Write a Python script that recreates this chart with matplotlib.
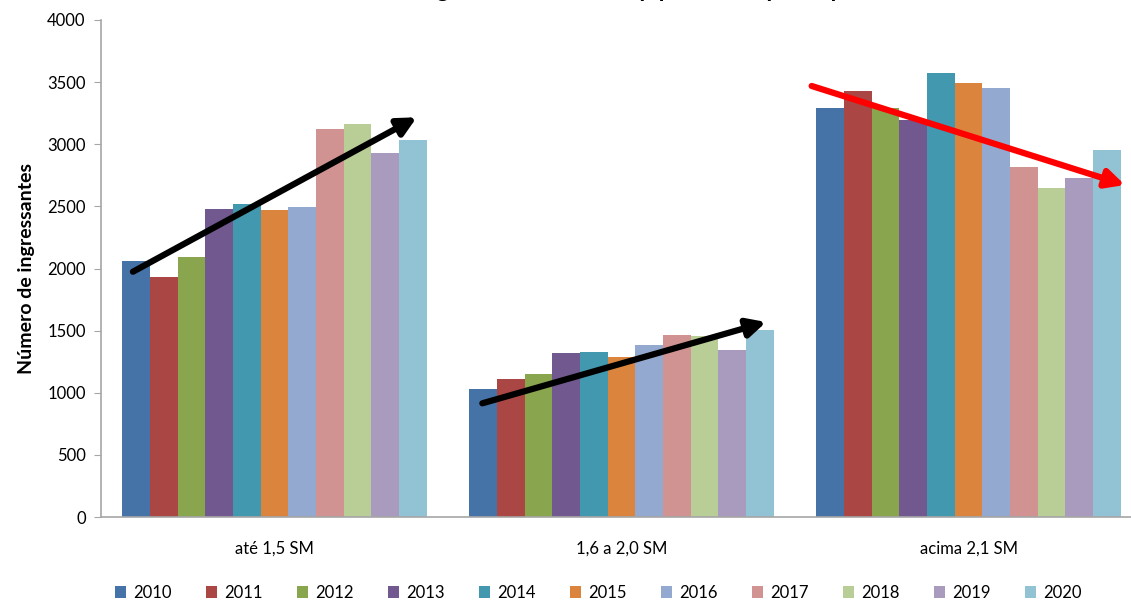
import matplotlib
matplotlib.use("Agg")
import matplotlib.pyplot as plt
import numpy as np

plt.rcParams['font.family'] = ['Lato', 'DejaVu Sans']

categories = ["até 1,5 SM", "1,6 a 2,0 SM", "acima 2,1 SM"]
years = ["2010", "2011", "2012", "2013", "2014", "2015", "2016", "2017", "2018", "2019", "2020"]
v2010 = [2058, 1030, 3290]
v2011 = [1934, 1108, 3431]
v2012 = [2093, 1148, 3294]
v2013 = [2479, 1323, 3195]
v2014 = [2522, 1328, 3571]
v2015 = [2471, 1288, 3491]
v2016 = [2492, 1384, 3456]
v2017 = [3120, 1465, 2819]
v2018 = [3163, 1460, 2650]
v2019 = [2932, 1341, 2726]
v2020 = [3034, 1505, 2954]
series = [v2010, v2011, v2012, v2013, v2014, v2015, v2016, v2017, v2018, v2019, v2020]
colors = ["#4572A7", "#AA4643", "#89A54E", "#71588F", "#4198AF", "#DB843D",
          "#93A9CF", "#D19392", "#B9CD96", "#A99BBD", "#92C3D5"]
yticks = [0, 500, 1000, 1500, 2000, 2500, 3000, 3500, 4000]

# trend arrows (start, end) in data coordinates
arrow_up1 = ((-0.408, 1974), (0.410, 3217))
arrow_up2 = ((0.599, 915), (1.417, 1569))
arrow_down = ((1.548, 3469), (2.451, 2672))

fig = plt.figure(figsize=(11.31, 6.01), dpi=100)
ax = fig.add_axes([101/1131, 1 - 517/601, 1041/1131, 497/601])

n = len(series)
bw = 0.0798
x = np.arange(len(categories))
for i, (vals, c, yr) in enumerate(zip(series, colors, years)):
    ax.bar(x + (i - (n - 1) / 2) * bw, vals, width=bw, color=c, label=yr,
           edgecolor='none')

ax.set_xlim(-0.5, 2.5)
ax.set_ylim(0, 4000)
ax.set_yticks(yticks)
ax.set_yticklabels([str(t) for t in yticks], fontsize=12)
ax.set_xticks(x)
ax.set_xticklabels(categories, fontsize=12)
ax.tick_params(axis='x', length=0, pad=17)
ax.tick_params(axis='y', length=5, direction='out', color='#A6A6A6', pad=6)
for s in ['top', 'right']:
    ax.spines[s].set_visible(False)
for s in ['left', 'bottom']:
    ax.spines[s].set_color('#A6A6A6')
    ax.spines[s].set_linewidth(1.2)
ax.set_ylabel("Número de ingressantes", fontsize=14, fontweight='bold', labelpad=9)

for (s, e), col in [(arrow_up1, 'black'), (arrow_up2, 'black'), (arrow_down, '#FF0000')]:
    ax.annotate("", xy=e, xytext=s,
                arrowprops=dict(arrowstyle='-|>,head_length=1.1,head_width=0.55',
                                color=col, lw=4.5, shrinkA=0, shrinkB=0),
                annotation_clip=False)

fig.text(0.45, 1 + 3/601, "Gráfico 5: Número de estudantes ingressantes na Unesp por renda per capita familiar",
         ha='center', va='baseline', fontsize=17, fontweight='bold')

fig.legend(loc='center', bbox_to_anchor=(598/1131, 1 - 593/601), ncol=11, frameon=False,
           fontsize=12, handlelength=0.7, handleheight=0.7, handletextpad=0.4,
           columnspacing=2.05)

fig.savefig("out.png", dpi=100)
